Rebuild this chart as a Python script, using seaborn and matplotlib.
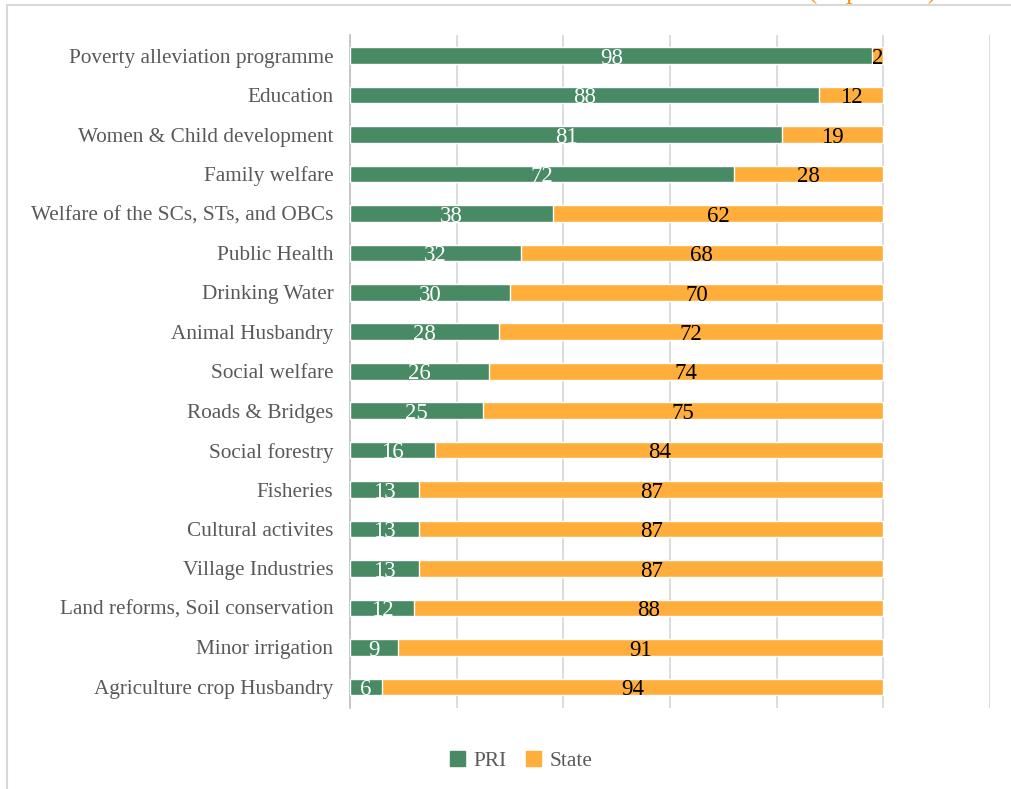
import numpy as np
import matplotlib
matplotlib.use("Agg")
import matplotlib.pyplot as plt
import matplotlib.patches as mpatches
import pandas as pd
import seaborn as sns

# data (top to bottom)
categories = [
    "Poverty alleviation programme",
    "Education",
    "Women & Child development",
    "Family welfare",
    "Welfare of the SCs, STs, and OBCs",
    "Public Health",
    "Drinking Water",
    "Animal Husbandry",
    "Social welfare",
    "Roads & Bridges",
    "Social forestry",
    "Fisheries",
    "Cultural activites",
    "Village Industries",
    "Land reforms, Soil conservation",
    "Minor irrigation",
    "Agriculture crop Husbandry",
]
pri = [98, 88, 81, 72, 38, 32, 30, 28, 26, 25, 16, 13, 13, 13, 12, 9, 6]
state = [2, 12, 19, 28, 62, 68, 70, 72, 74, 75, 84, 87, 87, 87, 88, 91, 94]

GREEN = "#478a64"
ORANGE = "#ffae3b"
GREY_TXT = "#595959"
GRID = "#d9d9d9"

sns.set_theme(style="white")
plt.rcParams["font.family"] = ["Liberation Serif", "DejaVu Serif"]

df = pd.DataFrame({"category": categories, "PRI": pri, "State": state})
df["total"] = df["PRI"] + df["State"]

fig = plt.figure(figsize=(10.12, 7.89), dpi=100)
ax = fig.add_axes([0.346, 0.103, 0.632, 0.853])

# stacked bars: full total in orange, PRI on top in green
sns.barplot(data=df, y="category", x="total", order=categories, color=ORANGE,
            saturation=1, width=0.42, ax=ax, zorder=2)
sns.barplot(data=df, y="category", x="PRI", order=categories, color=GREEN,
            saturation=1, width=0.42, ax=ax, zorder=3)

# value labels (sit a touch low, as in the original)
for i, (p, s) in enumerate(zip(pri, state)):
    ax.text(p / 2, i + 0.07, str(p), ha="center", va="center", color="white",
            fontsize=16.5, zorder=4)
    ax.text(p + s / 2, i + 0.07, str(s), ha="center", va="center", color="black",
            fontsize=16.5, zorder=4)

ax.set_xlim(0, 120)
ax.set_ylim(len(categories) - 0.5 + 0.03, -0.5 - 0.03)
ax.set_xticks(np.arange(0, 121, 20))
ax.set_xticklabels([])
ax.tick_params(axis="x", length=0)
ax.xaxis.grid(True, color=GRID, linewidth=1.3, zorder=0)
ax.set_axisbelow(True)

ax.set_ylabel("")
ax.set_xlabel("")
ax.tick_params(axis="y", length=0, pad=12, labelsize=15.3, labelcolor=GREY_TXT)
ax.set_yticks(np.arange(-0.5, len(categories) + 0.5, 1), minor=True)
ax.tick_params(axis="y", which="minor", length=5, color="#bfbfbf", width=1)

for side in ["top", "right", "bottom"]:
    ax.spines[side].set_visible(False)
ax.spines["left"].set_color("#bfbfbf")
ax.spines["left"].set_linewidth(1.2)

# legend
handles = [mpatches.Patch(color=GREEN, label="PRI"),
           mpatches.Patch(color=ORANGE, label="State")]
fig.legend(handles=handles, loc="center", bbox_to_anchor=(0.515, 0.035),
           ncol=2, frameon=False, fontsize=15.3, handlelength=0.7,
           handleheight=0.7, handletextpad=0.4, columnspacing=0.9,
           labelcolor=GREY_TXT)

# chart border and the cut-off heading above it
fig.patches.append(mpatches.Rectangle((7 / 1012, -0.01), 1.0, 1.0 - 5 / 789 + 0.01,
                                      transform=fig.transFigure, fill=False,
                                      edgecolor=GRID, linewidth=1.5))
fig.text(808 / 1012, 1.0 + 2 / 789, "(in percent)", ha="left", va="baseline",
         color="#f39c12", fontsize=20)

fig.savefig("out.png", dpi=100)
